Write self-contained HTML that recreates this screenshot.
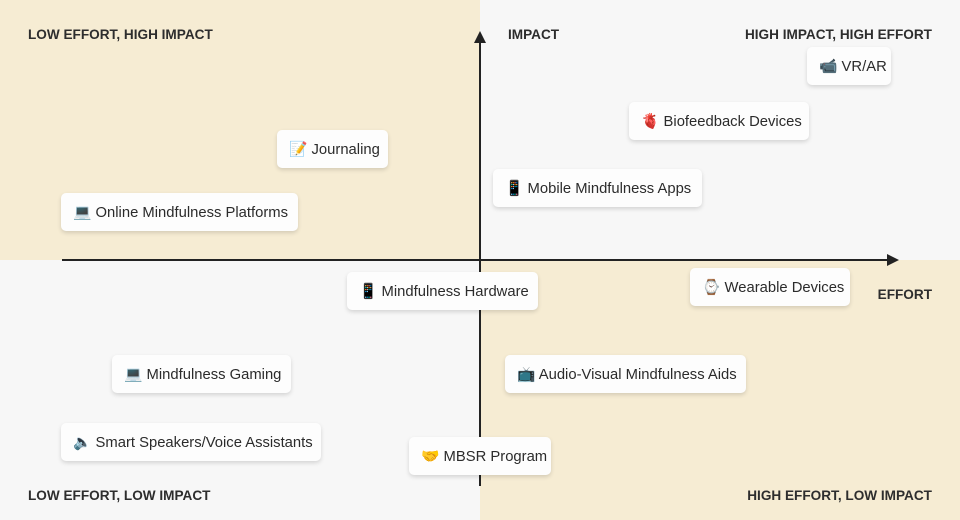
<!DOCTYPE html>
<html><head><meta charset="utf-8"><style>
body{margin:0;width:960px;height:520px;position:relative;overflow:hidden;font-family:"Liberation Sans","Noto Sans CJK SC",sans-serif;background:#f7f7f7}
.q{position:absolute;width:480px;height:260px}
.lbl{position:absolute;font-size:13.6px;font-weight:700;color:#2d2d2d;line-height:16px;white-space:nowrap}
.n{position:absolute;height:38px;background:#fdfdfd;border-radius:5px;box-shadow:0 2px 4px rgba(0,0,0,0.14);font-size:14.8px;color:#2b2b2b;line-height:40px;box-sizing:border-box;padding-left:12px;white-space:nowrap}
</style></head><body>
<div class="q" style="left:0;top:0;background:#f6ecd3"></div>
<div class="q" style="left:480px;top:260px;background:#f6ecd3"></div>
<svg style="position:absolute;left:0;top:0" width="960" height="520">
<line x1="480" y1="40" x2="480" y2="486" stroke="#222" stroke-width="2"/>
<polygon points="480,31 474,43 486,43" fill="#222"/>
<line x1="62" y1="260" x2="890" y2="260" stroke="#222" stroke-width="2"/>
<polygon points="899,260 887,254 887,266" fill="#222"/>
</svg>
<div class="lbl" style="left:28px;top:27px">LOW EFFORT, HIGH IMPACT</div>
<div class="lbl" style="left:508px;top:27px">IMPACT</div>
<div class="lbl" style="right:28px;top:27px">HIGH IMPACT, HIGH EFFORT</div>
<div class="lbl" style="right:28px;top:287px">EFFORT</div>
<div class="lbl" style="left:28px;top:488px">LOW EFFORT, LOW IMPACT</div>
<div class="lbl" style="right:28px;top:488px">HIGH EFFORT, LOW IMPACT</div>
<div class="n" style="left:807px;top:47px;width:84px">📹 VR/AR</div>
<div class="n" style="left:629px;top:102px;width:180px">🫀 Biofeedback Devices</div>
<div class="n" style="left:277px;top:130px;width:111px">📝 Journaling</div>
<div class="n" style="left:493px;top:169px;width:209px">📱 Mobile Mindfulness Apps</div>
<div class="n" style="left:61px;top:193px;width:237px">💻 Online Mindfulness Platforms</div>
<div class="n" style="left:347px;top:272px;width:191px">📱 Mindfulness Hardware</div>
<div class="n" style="left:690px;top:268px;width:160px">⌚ Wearable Devices</div>
<div class="n" style="left:112px;top:355px;width:179px">💻 Mindfulness Gaming</div>
<div class="n" style="left:505px;top:355px;width:241px">📺 Audio-Visual Mindfulness Aids</div>
<div class="n" style="left:61px;top:423px;width:260px">🔈 Smart Speakers/Voice Assistants</div>
<div class="n" style="left:409px;top:437px;width:142px">🤝 MBSR Program</div>
</body></html>
